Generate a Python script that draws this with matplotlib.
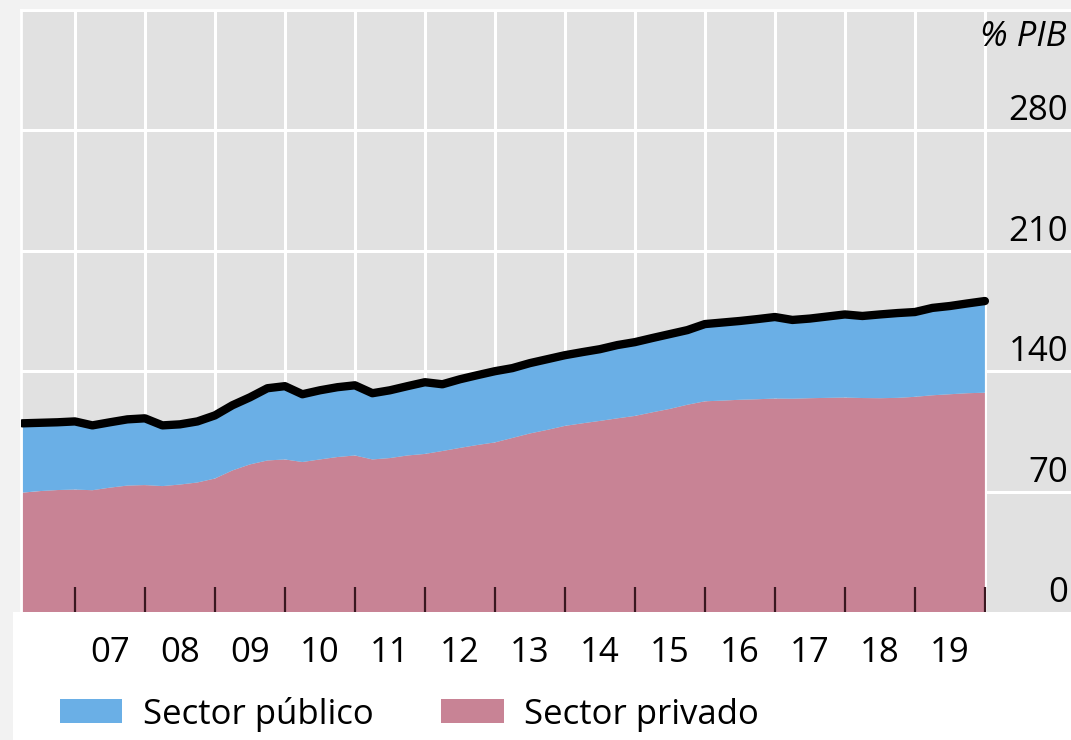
import numpy as np
import matplotlib
matplotlib.use("Agg")
import matplotlib.pyplot as plt
from matplotlib.patches import Patch, Rectangle
import matplotlib.transforms as mtransforms

plt.rcParams['font.family'] = ['Open Sans', 'DejaVu Sans']

# quarterly data, 2006 Q2 .. 2019 Q4 (% of GDP)
total = [109.7, 110.0, 110.3, 110.8, 108.5, 110.3, 112.0, 112.6,
         108.5, 109.1, 110.8, 114.3, 120.2, 124.8, 130.1, 131.3,
         126.6, 128.9, 130.7, 131.8, 127.2, 128.9, 131.3, 133.6,
         132.4, 135.3, 137.7, 140.0, 141.8, 144.7, 147.0, 149.3,
         151.1, 152.8, 155.2, 156.9, 159.3, 161.6, 163.9, 167.4,
         168.3, 169.2, 170.3, 171.5, 169.8, 170.6, 171.8, 173.0,
         172.1, 173.0, 173.8, 174.4, 176.8, 177.9, 179.4, 180.8]
privado = [69.4, 70.3, 70.9, 71.2, 70.8, 72.3, 73.5, 73.8,
           73.2, 74.1, 75.3, 77.6, 82.3, 85.8, 88.1, 88.7,
           87.2, 88.7, 90.1, 91.0, 88.7, 89.5, 91.0, 91.9,
           93.6, 95.4, 97.1, 98.6, 101.2, 103.8, 105.9, 108.2,
           109.7, 111.1, 112.6, 114.0, 116.1, 118.1, 120.5, 122.5,
           122.9, 123.4, 123.7, 124.1, 124.0, 124.3, 124.5, 124.7,
           124.4, 124.3, 124.5, 125.1, 126.0, 126.6, 127.2, 127.5]
publico = [t - p for t, p in zip(total, privado)]

years = list(range(2007, 2020))
year_labels = ['07', '08', '09', '10', '11', '12', '13', '14', '15', '16', '17', '18', '19']
yticks = [0, 70, 140, 210, 280]

x = 2006.25 + 0.25 * np.arange(len(total))

blue = '#6aafe6'
pink = '#c88395'
bg = '#e1e1e1'
fs = 25

fig = plt.figure(figsize=(10.71, 7.40), dpi=100, facecolor='#f2f2f2')
fig.patches.append(Rectangle((13 / 1071, 0), 1, 128 / 740, transform=fig.transFigure,
                             facecolor='white', edgecolor='none', zorder=-5))

ax = fig.add_axes([21 / 1071, 128 / 740, 1 - 21 / 1071, 602 / 740])
ax.set_facecolor(bg)
ax.set_axisbelow(False)

ax.stackplot(x, privado, publico, colors=[pink, blue], linewidth=0, zorder=2)
ax.plot(x, total, color='black', lw=6, solid_capstyle='round', solid_joinstyle='round', zorder=3)

ax.set_xlim(2006.23, 2021.23)
ax.set_ylim(0, 350)

# grid
for yr in years + [2020]:
    ax.axvline(yr, color='white', lw=2.2, zorder=1)
for v in [70, 140, 210, 280, 350]:
    ax.axhline(v, color='white', lw=2.2, zorder=1)

for s in ['right', 'bottom']:
    ax.spines[s].set_visible(False)
for s in ['left', 'top']:
    ax.spines[s].set_color('white')
    ax.spines[s].set_linewidth(2)

# x ticks: marks at year boundaries, labels mid-year
ax.set_xticks(years + [2020])
ax.set_xticklabels([])
ax.tick_params(axis='x', which='major', direction='in', length=18, width=1.6,
               color='#3a1820')
ax.set_xticks([yr + 0.5 for yr in years], minor=True)
ax.set_xticklabels(year_labels, minor=True, fontsize=fs)
ax.tick_params(axis='x', which='minor', length=0, pad=17)
ax.set_yticks([])

# y labels inside, right
trans = mtransforms.blended_transform_factory(ax.transAxes, ax.transData)
off = mtransforms.offset_copy(trans, fig=fig, x=-3, y=10, units='dots')
for v in yticks:
    ax.text(1.0, v, str(v), transform=off, ha='right', va='baseline', fontsize=fs, zorder=6)
ax.text(1.0, 0.94, '% PIB', transform=mtransforms.offset_copy(ax.transAxes, fig=fig, x=-5, y=0, units='dots'),
        ha='right', va='baseline', fontsize=fs, style='italic', zorder=6)

handles = [Patch(facecolor=blue, edgecolor='none', label='Sector público'),
           Patch(facecolor=pink, edgecolor='none', label='Sector privado')]
fig.legend(handles=handles, loc='center left', bbox_to_anchor=(60 / 1071, 26 / 740),
           ncol=2, frameon=False, fontsize=fs, borderpad=0, borderaxespad=0,
           handlelength=1.79, handleheight=0.69, handletextpad=0.6, columnspacing=1.95)

fig.savefig('out.png', dpi=100, facecolor=fig.get_facecolor())
